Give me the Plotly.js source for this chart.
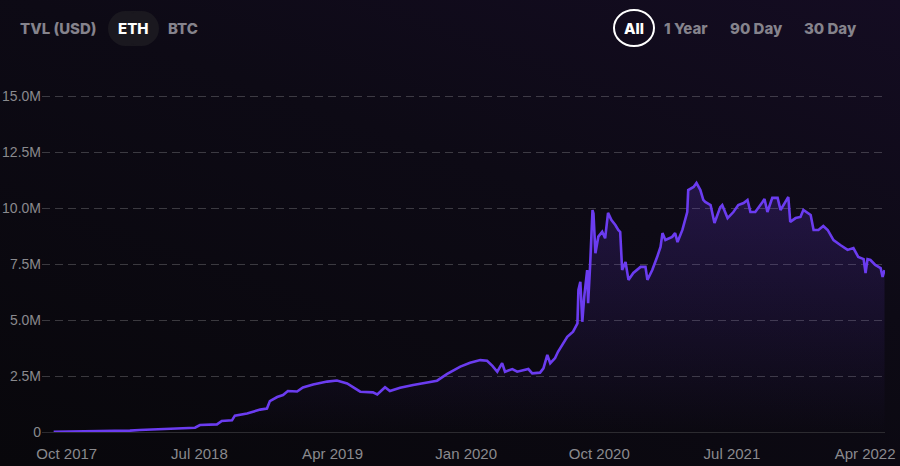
<!DOCTYPE html>
<html><head><meta charset="utf-8">
<script src="https://cdn.plot.ly/plotly-3.0.1.min.js"></script>
<style>
html,body{margin:0;padding:0;width:900px;height:466px;overflow:hidden;
background: linear-gradient(200deg, #140c22 0%, #0d0a15 40%, #08070b 100%);}
#chart{width:900px;height:466px;}
</style></head><body><div id="chart"></div>
<script>
const dates = ['2017-09-04','2017-12-14','2018-02-08','2018-02-28','2018-04-25','2018-06-22','2018-07-02','2018-08-06','2018-08-16','2018-09-06','2018-09-12','2018-10-07','2018-11-03','2018-11-17','2018-11-23','2018-12-08','2018-12-20','2018-12-30','2019-01-18','2019-01-30','2019-02-20','2019-03-21','2019-04-10','2019-04-20','2019-05-01','2019-05-28','2019-06-23','2019-07-02','2019-07-18','2019-07-28','2019-08-18','2019-09-14','2019-10-13','2019-11-02','2019-11-23','2019-12-20','2020-01-09','2020-01-30','2020-02-13','2020-02-24','2020-03-05','2020-03-15','2020-03-21','2020-04-05','2020-04-15','2020-05-08','2020-05-16','2020-06-01','2020-06-08','2020-06-16','2020-06-22','2020-07-02','2020-07-08','2020-07-23','2020-07-27','2020-08-08','2020-08-17','2020-08-19','2020-08-23','2020-08-27','2020-08-31','2020-09-06','2020-09-08','2020-09-12','2020-09-17','2020-09-19','2020-09-23','2020-09-29','2020-10-07','2020-10-13','2020-10-19','2020-10-26','2020-11-03','2020-11-09','2020-11-13','2020-11-17','2020-11-24','2020-11-30','2020-12-10','2020-12-25','2021-01-04','2021-01-08','2021-01-18','2021-01-28','2021-02-04','2021-02-08','2021-02-14','2021-02-28','2021-03-06','2021-03-11','2021-03-21','2021-03-31','2021-04-02','2021-04-13','2021-04-19','2021-04-27','2021-05-03','2021-05-07','2021-05-18','2021-05-26','2021-06-07','2021-06-11','2021-06-22','2021-07-04','2021-07-14','2021-07-25','2021-08-02','2021-08-08','2021-08-18','2021-09-02','2021-09-06','2021-09-12','2021-09-22','2021-10-03','2021-10-09','2021-10-19','2021-10-25','2021-10-29','2021-11-09','2021-11-19','2021-11-25','2021-12-10','2021-12-16','2021-12-26','2022-01-05','2022-01-14','2022-01-26','2022-02-09','2022-02-24','2022-03-08','2022-03-18','2022-03-29','2022-04-02','2022-04-06','2022-04-12','2022-04-22','2022-05-03','2022-05-07','2022-05-11'];
const tvlMillions = [0.01,0.03,0.06,0.09,0.15,0.19,0.31,0.34,0.49,0.52,0.73,0.83,1.0,1.05,1.38,1.56,1.65,1.83,1.81,1.99,2.12,2.25,2.30,2.25,2.17,1.80,1.77,1.68,2.0,1.83,1.98,2.10,2.20,2.29,2.59,2.92,3.09,3.21,3.18,2.95,2.69,3.07,2.69,2.81,2.69,2.81,2.62,2.65,2.84,3.44,3.07,3.30,3.58,4.11,4.25,4.48,4.85,6.34,6.71,4.92,6.04,7.23,5.75,7.38,9.91,9.76,7.98,8.72,8.94,8.65,9.78,9.46,9.24,9.02,8.93,7.23,7.59,6.79,7.10,7.37,7.37,6.79,7.23,7.81,8.26,8.88,8.57,8.71,8.88,8.48,9.02,9.82,10.80,10.94,11.12,10.80,10.36,10.27,10.13,9.33,10.04,10.13,9.55,9.82,10.13,10.22,10.36,9.82,9.82,10.27,10.40,9.82,10.45,10.45,9.91,10.27,10.49,9.38,9.55,9.60,9.91,9.69,9.02,9.02,9.20,9.02,8.57,8.35,8.13,8.21,7.81,7.72,7.10,7.72,7.68,7.46,7.32,6.92,7.23];
const xTickDates = ['2017-10-01','2018-07-01','2019-04-01','2020-01-01','2020-10-01','2021-07-01','2022-04-01'];
const xTickLabels = ['Oct 2017','Jul 2018','Apr 2019','Jan 2020','Oct 2020','Jul 2021','Apr 2022'];
const yTickValues = [0,2.5,5,7.5,10,12.5,15];
const yTickLabels = ['0','2.5M','5.0M','7.5M','10.0M','12.5M','15.0M'];
const currencyOptions = ['TVL (USD)','ETH','BTC'];
const currencySelected = 'ETH';
const rangeOptions = ['All','1 Year','90 Day','30 Day'];
const rangeSelected = 'All';

// layout geometry (pixels)
const L = 42, R = 885, T = 60, B = 432;
const fx = x => (x - L) / (R - L);
const fy = y => (B - y) / (B - T);

const btnFont = (sel) => ({family:'Inter, "Open Sans", sans-serif', size:15, weight:800, color: sel ? '#ffffff' : '#85838c'});
const currencyCenters = [58, 133, 183];
const rangeCenters = [634, 686, 756, 830];
const annotations = [];
currencyOptions.forEach((t,i)=>annotations.push({text:t, x:fx(currencyCenters[i]), y:fy(28), xref:'paper', yref:'paper', xanchor:'center', yanchor:'middle', showarrow:false, font:btnFont(t===currencySelected)}));
rangeOptions.forEach((t,i)=>annotations.push({text:t, x:fx(rangeCenters[i]), y:fy(28), xref:'paper', yref:'paper', xanchor:'center', yanchor:'middle', showarrow:false, font:btnFont(t===rangeSelected)}));

const pill = '#1a181f';
const shapes = [
  {type:'rect', xref:'paper', yref:'paper', x0:fx(125), x1:fx(142), y0:fy(46), y1:fy(11), fillcolor:pill, line:{width:0}, layer:'below'},
  {type:'circle', xref:'paper', yref:'paper', x0:fx(108), x1:fx(143), y0:fy(46), y1:fy(11), fillcolor:pill, line:{width:0}, layer:'below'},
  {type:'circle', xref:'paper', yref:'paper', x0:fx(124), x1:fx(159), y0:fy(46), y1:fy(11), fillcolor:pill, line:{width:0}, layer:'below'},
  {type:'circle', xref:'paper', yref:'paper', x0:fx(614), x1:fx(654), y0:fy(46), y1:fy(10), fillcolor:'rgba(0,0,0,0)', line:{width:2, color:'#ffffff'}}
];

const yTickFont = {family:'"Liberation Sans", Arial, sans-serif', size:14, color:'#8a8a8e'};
const xTickFont = {family:'"Liberation Sans", Arial, sans-serif', size:15, color:'#8a8a8e'};

const trace = {
  x: dates, y: tvlMillions, type:'scatter', mode:'lines',
  line:{color:'#6b3cf0', width:2.6},
  fill:'tozeroy',
  fillgradient:{type:'vertical', colorscale:[[0,'rgba(110,60,230,0)'],[1,'rgba(110,60,230,0.22)']]},
  hoverinfo:'skip'
};

const layout = {
  width:900, height:466,
  margin:{l:L, r:900-R, t:T, b:466-B, pad:0},
  paper_bgcolor:'rgba(0,0,0,0)', plot_bgcolor:'rgba(0,0,0,0)',
  showlegend:false,
  xaxis:{type:'date', range:['2017-08-11','2022-05-12'], tickvals:xTickDates, ticktext:xTickLabels,
    showgrid:false, zeroline:false, showline:false, ticks:'', ticklabelstandoff:11, tickfont:xTickFont, fixedrange:true},
  yaxis:{range:[0,(B-T)/22.4], tickvals:yTickValues, ticktext:yTickLabels,
    showgrid:true, gridcolor:'rgba(255,255,255,0.2)', griddash:'8px,5px', gridwidth:1,
    zeroline:true, zerolinecolor:'#2c2b30', zerolinewidth:1, showline:false, ticks:'', tickfont:yTickFont, fixedrange:true},
  annotations, shapes
};
Plotly.newPlot('chart', [trace], layout, {staticPlot:true, displayModeBar:false});
</script></body></html>
